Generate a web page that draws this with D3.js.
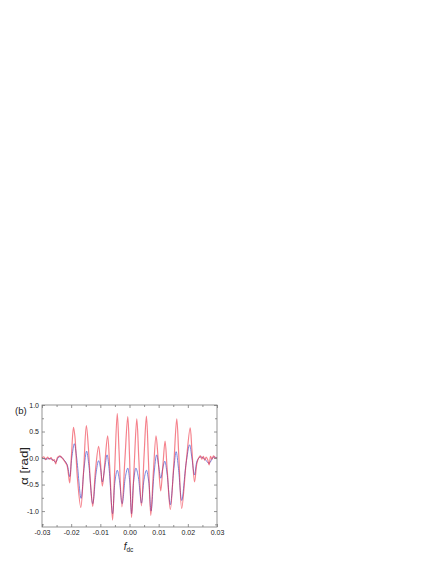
<!DOCTYPE html>
<html>
<head>
<meta charset="utf-8">
<script src="https://cdn.jsdelivr.net/npm/d3@7"></script>
<style>
  body { margin: 0; background: #fff; }
  svg { display: block; }
</style>
</head>
<body>
<script>
// red series (with adsorbate)
var redX = [-0.0300,-0.0293,-0.0287,-0.0281,-0.0275,-0.0269,-0.0263,-0.0258,-0.0253,-0.0248,-0.0243,-0.0239,-0.0234,-0.0229,-0.0224,-0.0219,-0.0214,-0.0210,-0.0205,
  -0.0199,-0.0192,-0.0187,-0.0179,-0.0167,-0.0158,-0.0148,-0.0141,-0.0134,-0.0126,-0.0117,-0.0106,-0.0100,-0.0093,-0.0084,-0.0075,-0.0068,
  -0.0058,-0.0051,-0.0042,-0.0036,-0.0026,-0.0016,-0.0006,0.0000,0.0007,0.0016,0.0025,0.0032,0.0041,0.0050,0.0058,0.0065,0.0073,0.0082,
  0.0091,0.0098,0.0107,0.0115,0.0122,0.0129,0.0140,0.0152,0.0162,0.0169,0.0179,0.0194,0.0208,0.0214,0.0223,0.0231,
  0.0237,0.0243,0.0248,0.0253,0.0258,0.0263,0.0268,0.0273,0.0278,0.0283,0.0288,0.0294,0.0300];
var redY = [0.00,0.02,-0.03,0.02,-0.02,0.01,-0.05,-0.03,-0.11,0.00,0.03,0.04,0.02,-0.01,-0.05,-0.09,-0.14,-0.28,-0.47,
  0.05,0.58,0.40,-0.35,-0.93,-0.30,0.61,0.20,-0.45,-0.91,-0.25,0.22,-0.05,-0.53,-0.05,0.42,-0.15,
  -1.17,-0.25,0.84,0.15,-0.92,-0.05,0.78,0.05,-1.12,-0.15,0.74,-0.02,-0.90,0.05,0.79,-0.05,-1.08,-0.25,
  0.42,0.00,-0.62,-0.10,0.32,-0.20,-0.97,-0.10,0.74,0.05,-0.95,-0.10,0.57,0.15,-0.45,-0.10,
  0.00,0.04,-0.02,0.03,-0.04,0.02,-0.03,-0.13,0.03,-0.02,0.04,0.00,0.01];

// blue series (reference)
var blueX = [-0.0300,-0.0287,-0.0275,-0.0263,-0.0253,-0.0243,-0.0234,-0.0224,-0.0214,-0.0205,
  -0.0198,-0.0189,-0.0181,-0.0166,-0.0156,-0.0147,-0.0140,-0.0126,-0.0115,-0.0106,-0.0099,-0.0093,-0.0084,-0.0077,-0.0070,
  -0.0058,-0.0050,-0.0042,-0.0035,-0.0025,-0.0014,-0.0006,0.0000,0.0007,0.0014,0.0022,0.0030,0.0041,0.0050,0.0058,0.0066,
  0.0074,0.0084,0.0093,0.0100,0.0107,0.0114,0.0121,0.0129,0.0140,0.0152,0.0160,0.0168,0.0179,0.0194,0.0206,0.0214,0.0223,0.0232,
  0.0243,0.0258,0.0273,0.0288,0.0300];
var blueY = [0.00,-0.02,-0.01,-0.03,-0.08,0.02,0.02,-0.04,-0.12,-0.35,
  0.00,0.27,0.00,-0.76,-0.20,0.13,-0.10,-0.86,-0.30,-0.05,-0.20,-0.45,-0.15,0.06,-0.20,
  -1.05,-0.45,-0.23,-0.40,-0.86,-0.35,-0.19,-0.40,-1.05,-0.45,-0.19,-0.35,-0.85,-0.40,-0.23,-0.45,
  -1.00,-0.30,0.06,-0.15,-0.38,-0.20,-0.06,-0.30,-0.88,-0.20,0.12,-0.20,-0.80,-0.10,0.25,0.00,-0.32,-0.05,
  0.02,-0.02,-0.10,0.02,0.00];

var xMajor = [-0.03,-0.02,-0.01,0.00,0.01,0.02,0.03];
var xMinor = [-0.025,-0.015,-0.005,0.005,0.015,0.025];
var yMajor = [-1.0,-0.5,0.0,0.5,1.0];
var yMinor = [-1.25,-0.75,-0.25,0.25,0.75];

var W = 436, H = 564;
var box = {left: 42, right: 217, top: 405, bottom: 527};

var svg = d3.select("body").append("svg")
    .attr("width", W)
    .attr("height", H)
    .style("font-family", "'Liberation Sans', Arial, sans-serif");

var x = d3.scaleLinear().domain([-0.03, 0.03]).range([box.left, box.right]);
var y = d3.scaleLinear().domain([-1.3, 1.0]).range([box.bottom, box.top]);

var frameCol = "#7a7a7a";

// curves
var line = d3.line().curve(d3.curveCatmullRom.alpha(0.5));
var bluePts = blueX.map(function(d, i) { return [x(d), y(blueY[i])]; });
var redPts = redX.map(function(d, i) { return [x(d), y(redY[i])]; });

svg.append("path")
    .attr("d", line(bluePts))
    .attr("fill", "none")
    .attr("stroke", "#4d5fd6")
    .attr("stroke-width", 1)
    .attr("stroke-opacity", 0.75);

svg.append("path")
    .attr("d", line(redPts))
    .attr("fill", "none")
    .attr("stroke", "#ec1c2e")
    .attr("stroke-width", 1.2)
    .attr("stroke-opacity", 0.55);

// frame
svg.append("rect")
    .attr("x", box.left).attr("y", box.top)
    .attr("width", box.right - box.left).attr("height", box.bottom - box.top)
    .attr("fill", "none").attr("stroke", frameCol).attr("stroke-width", 0.8);

function styleAxis(g) {
    g.select(".domain").remove();
    g.selectAll(".tick line").attr("stroke", frameCol).attr("stroke-width", 0.8);
    g.selectAll(".tick text").attr("fill", "#222").style("font-size", "7px");
}

var fmtX = function(d) { return d.toFixed(2); };
var fmtY = function(d) { return d.toFixed(1); };

// bottom
svg.append("g").attr("transform", "translate(0," + box.bottom + ")")
    .call(d3.axisBottom(x).tickValues(xMajor).tickSize(-3).tickPadding(3).tickFormat(fmtX))
    .call(styleAxis);
svg.append("g").attr("transform", "translate(0," + box.bottom + ")")
    .call(d3.axisBottom(x).tickValues(xMinor).tickSize(-2).tickFormat(""))
    .call(styleAxis);
// top
svg.append("g").attr("transform", "translate(0," + box.top + ")")
    .call(d3.axisTop(x).tickValues(xMajor).tickSize(-3).tickFormat(""))
    .call(styleAxis);
svg.append("g").attr("transform", "translate(0," + box.top + ")")
    .call(d3.axisTop(x).tickValues(xMinor).tickSize(-2).tickFormat(""))
    .call(styleAxis);
// left
svg.append("g").attr("transform", "translate(" + box.left + ",0)")
    .call(d3.axisLeft(y).tickValues(yMajor).tickSize(-3).tickPadding(3).tickFormat(fmtY))
    .call(styleAxis);
svg.append("g").attr("transform", "translate(" + box.left + ",0)")
    .call(d3.axisLeft(y).tickValues(yMinor).tickSize(-2).tickFormat(""))
    .call(styleAxis);
// right
svg.append("g").attr("transform", "translate(" + box.right + ",0)")
    .call(d3.axisRight(y).tickValues(yMajor).tickSize(-3).tickFormat(""))
    .call(styleAxis);
svg.append("g").attr("transform", "translate(" + box.right + ",0)")
    .call(d3.axisRight(y).tickValues(yMinor).tickSize(-2).tickFormat(""))
    .call(styleAxis);

// panel label
svg.append("text")
    .attr("x", 15).attr("y", 414)
    .attr("fill", "#222")
    .style("font-size", "9.5px")
    .text("(b)");

// y label
svg.append("text")
    .attr("transform", "translate(28," + (box.top + box.bottom) / 2 + ") rotate(-90)")
    .attr("text-anchor", "middle")
    .attr("fill", "#222")
    .attr("textLength", 38)
    .attr("lengthAdjust", "spacingAndGlyphs")
    .style("font-size", "10px")
    .text("α [rad]");

// x label
var xl = svg.append("text")
    .attr("x", (box.left + box.right) / 2 - 1).attr("y", 550)
    .attr("text-anchor", "middle")
    .attr("fill", "#222")
    .style("font-size", "10px");
xl.append("tspan").style("font-style", "italic").text("f");
xl.append("tspan").attr("dy", 2).style("font-size", "6.5px").text("dc");
</script>
</body>
</html>
